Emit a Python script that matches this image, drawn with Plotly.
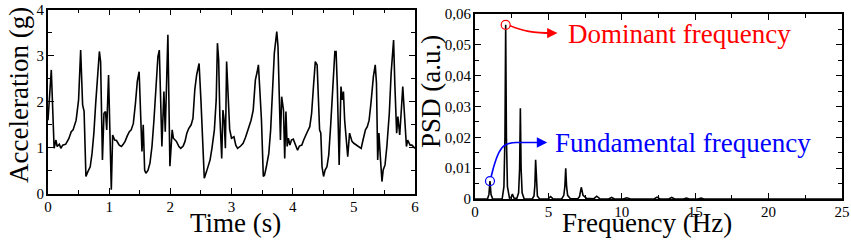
import plotly.graph_objects as go

# ---------------- data ----------------
time_s = [0, 0.02, 0.054, 0.1, 0.13, 0.15, 0.185, 0.21, 0.24, 0.29, 0.34, 0.38, 0.41, 0.46, 0.5,
          0.534, 0.566, 0.59, 0.62, 0.65, 0.69, 0.72, 0.75, 0.78, 0.82, 0.84, 0.86, 0.89, 0.915,
          0.94, 0.96, 0.99, 1.035, 1.057, 1.09, 1.12, 1.165, 1.2, 1.23, 1.26, 1.296, 1.33, 1.36,
          1.395, 1.43, 1.46, 1.49, 1.513, 1.536, 1.557, 1.58, 1.6, 1.634, 1.667, 1.70, 1.732,
          1.765, 1.797, 1.82, 1.84, 1.862, 1.895, 1.917, 1.96, 1.993, 2.03, 2.05, 2.10, 2.14,
          2.17, 2.21, 2.24, 2.27, 2.30, 2.34, 2.37, 2.40, 2.43, 2.47, 2.50, 2.53, 2.555, 2.59,
          2.62, 2.65, 2.68, 2.72, 2.75, 2.77, 2.79, 2.81, 2.84, 2.86, 2.88, 2.90, 2.92, 2.95,
          2.97, 3.0, 3.04, 3.07, 3.10, 3.15, 3.19, 3.23, 3.28, 3.32, 3.355, 3.39, 3.42, 3.44,
          3.46, 3.49, 3.52, 3.54, 3.57, 3.61, 3.64, 3.67, 3.70, 3.74, 3.76, 3.78, 3.80, 3.82,
          3.85, 3.87, 3.89, 3.91, 3.93, 3.955, 3.98, 4.01, 4.05, 4.08, 4.11, 4.15, 4.18, 4.21,
          4.24, 4.28, 4.31, 4.34, 4.37, 4.40, 4.42, 4.44, 4.46, 4.48, 4.505, 4.53, 4.56, 4.59,
          4.62, 4.66, 4.69, 4.71, 4.73, 4.76, 4.79, 4.81, 4.83, 4.85, 4.90, 4.93, 4.97, 5.0,
          5.04, 5.09, 5.12, 5.15, 5.19, 5.22, 5.25, 5.28, 5.32, 5.35, 5.37, 5.39, 5.41, 5.44,
          5.46, 5.48, 5.51, 5.54, 5.58, 5.61, 5.63, 5.65, 5.67, 5.70, 5.72, 5.75, 5.78, 5.80,
          5.82, 5.84, 5.86, 5.88, 5.92, 5.95, 5.98, 6.0]
accel_g = [1.6, 2.0, 2.69, 0.99, 1.17, 1.03, 1.08, 0.99, 1.06, 1.08, 1.2, 1.35, 1.39, 1.6, 2.04,
           3.12, 1.93, 1.79, 0.38, 0.48, 0.59, 0.88, 1.32, 1.97, 2.9, 3.09, 2.87, 0.74, 1.75,
           1.79, 1.39, 2.58, 0.09, 1.28, 1.17, 1.16, 1.06, 1.03, 1.08, 1.14, 1.26, 1.35, 1.39,
           1.53, 1.97, 2.44, 2.65, 1.86, 0.92, 1.5, 0.52, 0.45, 0.51, 0.67, 1.03, 1.6,
           2.33, 2.98, 3.12, 2.33, 1.03, 2.22, 1.35, 3.45, 0.6, 1.39, 1.21, 1.14, 1.03,
           0.99, 1.04, 1.14, 1.32, 1.42, 1.5, 1.64, 2.26, 2.58, 2.83, 2.04, 1.03, 0.34, 0.48,
           0.63, 0.74, 0.99, 1.39, 2.04, 3.27, 2.91, 1.68, 0.77, 1.82, 1.6, 0.99, 2.87, 2.08,
           1.4, 1.21, 1.24, 1.06, 0.99, 1.04, 1.10, 1.23, 1.42, 1.6, 1.82, 2.47, 2.65, 2.8,
           2.33, 1.6, 0.38, 0.41, 0.59, 0.88, 1.39, 2.11, 3.05, 3.52, 3.2, 2.18, 1.17, 2.11,
           1.82, 0.77, 1.79, 1.03, 1.21, 1.06, 1.17, 1.19, 1.06, 0.95, 1.04, 1.06, 1.17, 1.28,
           1.35, 1.46, 1.75, 2.33, 2.87, 2.8, 2.04, 1.39, 1.32, 0.59, 0.38, 0.52, 0.59, 0.85,
           1.46, 2.26, 3.09, 3.09, 2.33, 0.63, 2.33, 2.04, 2.22, 1.6, 0.81, 1.32, 1.14, 1.10,
           1.06, 1.03, 0.99, 1.17, 1.39, 1.46, 1.6, 1.97, 2.55, 2.8, 2.4, 0.74, 1.32, 0.67,
           0.27, 0.52, 0.63, 1.03, 1.75, 2.62, 3.12, 3.34, 2.4, 1.32, 1.68, 1.28, 1.89, 2.33,
           1.89, 1.32, 1.03, 1.17, 1.06, 1.06, 1.03, 0.99]

freq_hz = [0, 0.85, 0.95, 1.02, 1.09, 1.2, 1.85, 1.97, 2.04, 2.09, 2.14, 2.21, 2.35, 2.45, 2.55,
           2.65, 2.85, 2.97, 3.04, 3.09, 3.14, 3.21, 3.35, 3.9, 4.02, 4.08, 4.13, 4.18, 4.25,
           4.4, 5.0, 5.15, 5.3, 5.9, 6.05, 6.12, 6.18, 6.24, 6.31, 6.5, 7.0, 7.12, 7.24, 7.36,
           7.48, 7.6, 8.1, 8.29, 8.5, 9.1, 9.31, 9.5, 10.1, 10.33, 10.6, 11.2, 11.4, 11.6, 12.2,
           12.4, 12.6, 13.2, 13.4, 13.6, 14.2, 14.4, 14.6, 15.2, 15.4, 15.6, 16.3, 16.5, 16.7,
           18.4, 18.6, 18.8, 25]
psd_au = [0, 0, 0.0015, 0.0058, 0.0015, 0, 0, 0.004, 0.02, 0.0565, 0.02, 0.004, 0.0003, 0.0004,
          0.0016, 0.0003, 0.0002, 0.002, 0.01, 0.0294, 0.01, 0.002, 0, 0, 0.001, 0.0045, 0.0127,
          0.0045, 0.001, 0, 0.0001, 0.0008, 0.0001, 0, 0.0012, 0.004, 0.0100, 0.004, 0.0012,
          0.0001, 0.0001, 0.0008, 0.0038, 0.0012, 0.0008, 0.0002, 0.0001, 0.0009, 0.0001, 0,
          0.0005, 0, 0, 0.0004, 0, 0, 0.0002, 0, 0, 0.0006, 0, 0, 0.0005, 0, 0, 0.0003, 0, 0,
          0.0003, 0, 0, 0.0001, 0, 0, 0.0002, 0, 0]

dominant = (2.09, 0.0565)
fundamental = (1.02, 0.0058)

acc_ticks = [0, 1, 2, 3, 4]
time_ticks = [0, 1, 2, 3, 4, 5, 6]
freq_ticks = [0, 5, 10, 15, 20, 25]
psd_ticks = [0, 0.01, 0.02, 0.03, 0.04, 0.05, 0.06]
psd_ticktext = ["0", "0,01", "0,02", "0,03", "0,04", "0,05", "0,06"]

# ---------------- figure ----------------
W, H = 851, 242
FONT = "Times New Roman, Times, Liberation Serif, DejaVu Serif, serif"
RED = "#ff0000"
BLUE = "#0000ff"

fig = go.Figure()
fig.add_trace(go.Scatter(x=time_s, y=accel_g, mode="lines",
                         line=dict(color="black", width=1.6), xaxis="x", yaxis="y"))
fig.add_trace(go.Scatter(x=freq_hz, y=psd_au, mode="lines",
                         line=dict(color="black", width=1.6), xaxis="x2", yaxis="y2"))
fig.add_trace(go.Scatter(x=[dominant[0]], y=[dominant[1]], mode="markers",
                         marker=dict(symbol="circle-open", size=9, color=RED, line=dict(width=1.2)),
                         xaxis="x2", yaxis="y2"))
fig.add_trace(go.Scatter(x=[fundamental[0]], y=[fundamental[1]], mode="markers",
                         marker=dict(symbol="circle-open", size=9, color=BLUE, line=dict(width=1.2)),
                         xaxis="x2", yaxis="y2"))


def px2x(px):
    return px / W


def px2y(py):
    return 1 - py / H


axis_common = dict(
    showline=True, linecolor="black", linewidth=1.8, mirror="allticks",
    ticks="inside", ticklen=6, tickwidth=1.2, tickcolor="black",
    showgrid=False, zeroline=False, ticklabeloverflow="allow", automargin=False,
    tickfont=dict(family=FONT, size=15, color="black"),
    minor=dict(ticks="inside", ticklen=4, tickwidth=1.2, tickcolor="black", showgrid=False),
)

fig.update_layout(
    width=W, height=H,
    margin=dict(l=0, r=0, t=0, b=0, autoexpand=False),
    paper_bgcolor="white", plot_bgcolor="white",
    showlegend=False,
    font=dict(family=FONT, color="black"),
    xaxis=dict(domain=[px2x(48), px2x(415)], range=[0, 6], tickvals=time_ticks,
               minor_dtick=0.5, anchor="y", ticklabelstandoff=-2, **axis_common),
    yaxis=dict(domain=[px2y(194), px2y(9.5)], range=[0, 4], tickvals=acc_ticks,
               minor_dtick=0.5, anchor="x", ticklabelstandoff=-1, **axis_common),
    xaxis2=dict(domain=[px2x(475), px2x(842)], range=[0, 25], tickvals=freq_ticks,
                minor_dtick=2.5, anchor="y2", ticklabelstandoff=-2, **axis_common),
    yaxis2=dict(domain=[px2y(199), px2y(14)], range=[0, 0.06], tickvals=psd_ticks,
                ticktext=psd_ticktext, minor_dtick=0.005, anchor="x2", ticklabelstandoff=-1,
                **axis_common),
)

TITLE = dict(family=FONT, size=27, color="black")
fig.add_annotation(text="Acceleration (g)", x=px2x(19), y=px2y(95), xref="paper", yref="paper",
                   textangle=-90, showarrow=False, font=TITLE, xanchor="center", yanchor="middle")
fig.add_annotation(text="Time (s)", x=px2x(235), y=px2y(223), xref="paper", yref="paper",
                   showarrow=False, font=TITLE, xanchor="center", yanchor="middle")
fig.add_annotation(text="PSD (a.u.)", x=px2x(431), y=px2y(92), xref="paper", yref="paper",
                   textangle=-90, showarrow=False, font=TITLE, xanchor="center", yanchor="middle")
fig.add_annotation(text="Frequency (Hz)", x=px2x(647), y=px2y(223), xref="paper", yref="paper",
                   showarrow=False, font=TITLE, xanchor="center", yanchor="middle")

fig.add_annotation(text="Dominant frequency", x=px2x(566), y=px2y(34), xref="paper", yref="paper",
                   showarrow=False, font=dict(family=FONT, size=27, color=RED),
                   xanchor="left", yanchor="middle")
fig.add_annotation(text="Fundamental frequency", x=px2x(553), y=px2y(143), xref="paper", yref="paper",
                   showarrow=False, font=dict(family=FONT, size=27, color=BLUE),
                   xanchor="left", yanchor="middle")

# curved connectors (data coords of right panel)
fig.add_shape(type="path", xref="x2", yref="y2",
              path="M 2.38 0.0562 C 3.3 0.0545, 3.9 0.0538, 5.3 0.0538",
              line=dict(color=RED, width=1.6))
fig.add_shape(type="path", xref="x2", yref="y2",
              path="M 1.1 0.0072 C 1.6 0.0175, 2.0 0.0183, 2.8 0.0183 L 4.6 0.0183",
              line=dict(color=BLUE, width=1.6))
fig.add_annotation(x=5.62, y=0.0538, xref="x2", yref="y2", ax=-8, ay=0, text="",
                   showarrow=True, arrowhead=2, arrowsize=1.3, arrowwidth=1.6, arrowcolor=RED)
fig.add_annotation(x=4.92, y=0.0183, xref="x2", yref="y2", ax=-8, ay=0, text="",
                   showarrow=True, arrowhead=2, arrowsize=1.3, arrowwidth=1.6, arrowcolor=BLUE)

fig.write_html("out.html", config={"displayModeBar": False},
               post_script="document.body.style.margin='0';document.body.style.overflow='hidden';")
